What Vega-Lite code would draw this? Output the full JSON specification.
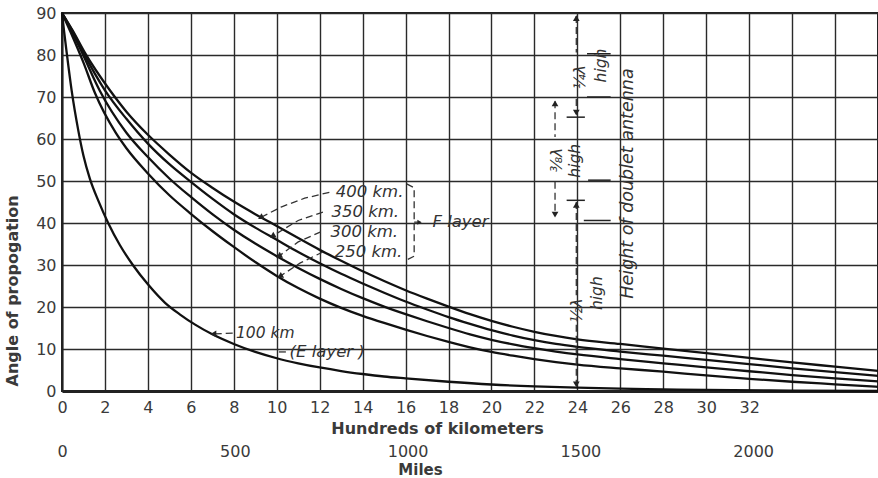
{
  "$schema": "https://vega.github.io/schema/vega-lite/v6.json",
  "width": 816,
  "height": 378,
  "autosize": {"type": "none"},
  "padding": {"left": 62, "top": 13, "right": 0, "bottom": 87},
  "background": "white",
  "config": {
    "view": {"stroke": "#222", "strokeWidth": 2},
    "axis": {
      "labelFont": "DejaVu Sans", "labelFontSize": 16, "labelColor": "#3a3a3a",
      "titleFont": "DejaVu Sans", "titleFontSize": 16, "titleFontWeight": "bold", "titleColor": "#3a3a3a",
      "gridColor": "#2a2a2a", "gridWidth": 1.4, "gridOpacity": 1,
      "domainColor": "#222", "ticks": false, "labelFlush": false, "labelOverlap": false
    },
    "text": {"font": "DejaVu Sans", "fontStyle": "italic", "fontSize": 15, "color": "#333"}
  },
  "datasets": {
    "curves": [
      {"km": "100", "x": 0, "angle": 90}, {"km": "100", "x": 0.1, "angle": 85.5}, {"km": "100", "x": 0.22, "angle": 80.5}, {"km": "100", "x": 0.45, "angle": 71.5}, {"km": "100", "x": 0.76, "angle": 62}, {"km": "100", "x": 1.0, "angle": 56}, {"km": "100", "x": 1.3, "angle": 50.5}, {"km": "100", "x": 1.7, "angle": 45.2}, {"km": "100", "x": 2.15, "angle": 40}, {"km": "100", "x": 2.7, "angle": 34.7}, {"km": "100", "x": 3.3, "angle": 30}, {"km": "100", "x": 4, "angle": 25.4}, {"km": "100", "x": 4.8, "angle": 21.0}, {"km": "100", "x": 5.5, "angle": 18.2}, {"km": "100", "x": 6.2, "angle": 15.8}, {"km": "100", "x": 7, "angle": 13.5}, {"km": "100", "x": 8, "angle": 11.2}, {"km": "100", "x": 9, "angle": 9.3}, {"km": "100", "x": 10, "angle": 7.8}, {"km": "100", "x": 11, "angle": 6.6}, {"km": "100", "x": 12, "angle": 5.6}, {"km": "100", "x": 13, "angle": 4.75}, {"km": "100", "x": 14, "angle": 4.05}, {"km": "100", "x": 15, "angle": 3.45}, {"km": "100", "x": 16, "angle": 3.0}, {"km": "100", "x": 18, "angle": 2.2}, {"km": "100", "x": 20, "angle": 1.55}, {"km": "100", "x": 22, "angle": 1.1}, {"km": "100", "x": 24, "angle": 0.8}, {"km": "100", "x": 26, "angle": 0.55}, {"km": "100", "x": 28, "angle": 0.4}, {"km": "100", "x": 30, "angle": 0.25}, {"km": "100", "x": 33, "angle": 0.12}, {"km": "100", "x": 38, "angle": 0},
      {"km": "250", "x": 0, "angle": 90}, {"km": "250", "x": 0.5, "angle": 84.3}, {"km": "250", "x": 1, "angle": 78.2}, {"km": "250", "x": 1.53, "angle": 71}, {"km": "250", "x": 2.5, "angle": 61.5}, {"km": "250", "x": 3, "angle": 57.8}, {"km": "250", "x": 4, "angle": 51.8}, {"km": "250", "x": 5, "angle": 46.6}, {"km": "250", "x": 6, "angle": 42.2}, {"km": "250", "x": 7, "angle": 38.1}, {"km": "250", "x": 8, "angle": 34.3}, {"km": "250", "x": 9, "angle": 30.7}, {"km": "250", "x": 10, "angle": 27.4}, {"km": "250", "x": 11, "angle": 24.5}, {"km": "250", "x": 12, "angle": 22}, {"km": "250", "x": 13, "angle": 19.8}, {"km": "250", "x": 14, "angle": 17.9}, {"km": "250", "x": 15, "angle": 16.2}, {"km": "250", "x": 16, "angle": 14.6}, {"km": "250", "x": 17, "angle": 13.1}, {"km": "250", "x": 18, "angle": 11.7}, {"km": "250", "x": 19, "angle": 10.4}, {"km": "250", "x": 20, "angle": 9.3}, {"km": "250", "x": 21, "angle": 8.4}, {"km": "250", "x": 22, "angle": 7.6}, {"km": "250", "x": 23, "angle": 6.9}, {"km": "250", "x": 24, "angle": 6.3}, {"km": "250", "x": 26, "angle": 5.4}, {"km": "250", "x": 28, "angle": 4.6}, {"km": "250", "x": 30, "angle": 3.7}, {"km": "250", "x": 32, "angle": 2.9}, {"km": "250", "x": 34, "angle": 2.2}, {"km": "250", "x": 36, "angle": 1.6}, {"km": "250", "x": 38, "angle": 1.0},
      {"km": "300", "x": 0, "angle": 90}, {"km": "300", "x": 0.5, "angle": 85.2}, {"km": "300", "x": 1, "angle": 79.8}, {"km": "300", "x": 1.76, "angle": 71.5}, {"km": "300", "x": 3, "angle": 61.5}, {"km": "300", "x": 4, "angle": 55.7}, {"km": "300", "x": 5, "angle": 50.6}, {"km": "300", "x": 6, "angle": 46.2}, {"km": "300", "x": 7, "angle": 42.1}, {"km": "300", "x": 8, "angle": 38.4}, {"km": "300", "x": 9, "angle": 35.1}, {"km": "300", "x": 10, "angle": 32.1}, {"km": "300", "x": 11, "angle": 29.3}, {"km": "300", "x": 12, "angle": 26.7}, {"km": "300", "x": 13, "angle": 24.3}, {"km": "300", "x": 14, "angle": 22.1}, {"km": "300", "x": 15, "angle": 20.1}, {"km": "300", "x": 16, "angle": 18.3}, {"km": "300", "x": 17, "angle": 16.6}, {"km": "300", "x": 18, "angle": 15}, {"km": "300", "x": 19, "angle": 13.5}, {"km": "300", "x": 20, "angle": 12.2}, {"km": "300", "x": 21, "angle": 11.1}, {"km": "300", "x": 22, "angle": 10.2}, {"km": "300", "x": 23, "angle": 9.4}, {"km": "300", "x": 24, "angle": 8.7}, {"km": "300", "x": 26, "angle": 7.6}, {"km": "300", "x": 28, "angle": 6.6}, {"km": "300", "x": 30, "angle": 5.6}, {"km": "300", "x": 32, "angle": 4.7}, {"km": "300", "x": 34, "angle": 3.8}, {"km": "300", "x": 36, "angle": 3.0}, {"km": "300", "x": 38, "angle": 2.3},
      {"km": "350", "x": 0, "angle": 90}, {"km": "350", "x": 0.5, "angle": 85.6}, {"km": "350", "x": 1, "angle": 80.5}, {"km": "350", "x": 2, "angle": 71.6}, {"km": "350", "x": 3, "angle": 64.8}, {"km": "350", "x": 4, "angle": 58.9}, {"km": "350", "x": 5, "angle": 54}, {"km": "350", "x": 6, "angle": 49.8}, {"km": "350", "x": 7, "angle": 45.8}, {"km": "350", "x": 8, "angle": 42.1}, {"km": "350", "x": 9, "angle": 38.9}, {"km": "350", "x": 10, "angle": 36}, {"km": "350", "x": 11, "angle": 33.1}, {"km": "350", "x": 12, "angle": 30.4}, {"km": "350", "x": 13, "angle": 27.9}, {"km": "350", "x": 14, "angle": 25.6}, {"km": "350", "x": 15, "angle": 23.4}, {"km": "350", "x": 16, "angle": 21.3}, {"km": "350", "x": 17, "angle": 19.4}, {"km": "350", "x": 18, "angle": 17.6}, {"km": "350", "x": 19, "angle": 16}, {"km": "350", "x": 20, "angle": 14.5}, {"km": "350", "x": 21, "angle": 13.2}, {"km": "350", "x": 22, "angle": 12.1}, {"km": "350", "x": 23, "angle": 11.2}, {"km": "350", "x": 24, "angle": 10.5}, {"km": "350", "x": 26, "angle": 9.4}, {"km": "350", "x": 28, "angle": 8.4}, {"km": "350", "x": 30, "angle": 7.4}, {"km": "350", "x": 32, "angle": 6.4}, {"km": "350", "x": 34, "angle": 5.4}, {"km": "350", "x": 36, "angle": 4.5}, {"km": "350", "x": 38, "angle": 3.6},
      {"km": "400", "x": 0, "angle": 90}, {"km": "400", "x": 0.5, "angle": 85.8}, {"km": "400", "x": 1.07, "angle": 80.5}, {"km": "400", "x": 2.23, "angle": 71.6}, {"km": "400", "x": 3, "angle": 66.5}, {"km": "400", "x": 4, "angle": 61}, {"km": "400", "x": 5, "angle": 56.3}, {"km": "400", "x": 6, "angle": 52}, {"km": "400", "x": 7, "angle": 48.4}, {"km": "400", "x": 8, "angle": 45.1}, {"km": "400", "x": 9, "angle": 42.1}, {"km": "400", "x": 10, "angle": 39.3}, {"km": "400", "x": 11, "angle": 36.4}, {"km": "400", "x": 12, "angle": 33.6}, {"km": "400", "x": 13, "angle": 31}, {"km": "400", "x": 14, "angle": 28.5}, {"km": "400", "x": 15, "angle": 26.2}, {"km": "400", "x": 16, "angle": 24}, {"km": "400", "x": 17, "angle": 22}, {"km": "400", "x": 18, "angle": 20.1}, {"km": "400", "x": 19, "angle": 18.3}, {"km": "400", "x": 20, "angle": 16.7}, {"km": "400", "x": 21, "angle": 15.3}, {"km": "400", "x": 22, "angle": 14.1}, {"km": "400", "x": 23, "angle": 13.1}, {"km": "400", "x": 24, "angle": 12.3}, {"km": "400", "x": 26, "angle": 11.2}, {"km": "400", "x": 28, "angle": 10.1}, {"km": "400", "x": 30, "angle": 9.0}, {"km": "400", "x": 32, "angle": 7.9}, {"km": "400", "x": 34, "angle": 6.8}, {"km": "400", "x": 36, "angle": 5.8}, {"km": "400", "x": 38, "angle": 4.8}
    ],
    "dashes": [
      {"g": "l400", "o": 1, "x": 12.45, "angle": 47.3}, {"g": "l400", "o": 2, "x": 11.3, "angle": 45.9}, {"g": "l400", "o": 3, "x": 10.2, "angle": 43.8}, {"g": "l400", "o": 4, "x": 9.25, "angle": 41.3},
      {"g": "l350", "o": 1, "x": 12.15, "angle": 42.6}, {"g": "l350", "o": 2, "x": 11.0, "angle": 40.6}, {"g": "l350", "o": 3, "x": 9.8, "angle": 36.9},
      {"g": "l300", "o": 1, "x": 12.05, "angle": 37.9}, {"g": "l300", "o": 2, "x": 11.0, "angle": 35.5}, {"g": "l300", "o": 3, "x": 10.1, "angle": 32.1},
      {"g": "l250", "o": 1, "x": 12.15, "angle": 33.1}, {"g": "l250", "o": 2, "x": 11.1, "angle": 30.5}, {"g": "l250", "o": 3, "x": 10.15, "angle": 27.3},
      {"g": "brk", "o": 1, "x": 16.05, "angle": 49.3}, {"g": "brk", "o": 2, "x": 16.4, "angle": 48.4}, {"g": "brk", "o": 3, "x": 16.4, "angle": 32.1}, {"g": "brk", "o": 4, "x": 16.05, "angle": 31.2},
      {"g": "brk2", "o": 1, "x": 16.4, "angle": 40.2}, {"g": "brk2", "o": 2, "x": 16.6, "angle": 40.2},
      {"g": "l100", "o": 1, "x": 7.95, "angle": 13.8}, {"g": "l100", "o": 2, "x": 7.1, "angle": 13.6},
      {"g": "le", "o": 1, "x": 10.1, "angle": 9.3}, {"g": "le", "o": 2, "x": 10.45, "angle": 9.3},
      {"g": "q1a", "o": 1, "x": 23.95, "angle": 89.3}, {"g": "q1a", "o": 2, "x": 23.95, "angle": 80.6},
      {"g": "q1b", "o": 1, "x": 23.95, "angle": 69.5}, {"g": "q1b", "o": 2, "x": 23.95, "angle": 66},
      {"g": "q3a", "o": 1, "x": 22.96, "angle": 69}, {"g": "q3a", "o": 2, "x": 22.96, "angle": 60.5},
      {"g": "q3b", "o": 1, "x": 22.96, "angle": 49.8}, {"g": "q3b", "o": 2, "x": 22.96, "angle": 42},
      {"g": "h1a", "o": 1, "x": 23.95, "angle": 45}, {"g": "h1a", "o": 2, "x": 23.95, "angle": 22.8},
      {"g": "h1b", "o": 1, "x": 23.95, "angle": 15.8}, {"g": "h1b", "o": 2, "x": 23.95, "angle": 1.5}
    ],
    "ticks": [
      {"x": 23.5, "x2": 24.35, "angle": 65.2}, {"x": 23.5, "x2": 24.35, "angle": 45.4},
      {"x": 24.45, "x2": 25.55, "angle": 80.3}, {"x": 24.45, "x2": 25.55, "angle": 70},
      {"x": 24.5, "x2": 25.55, "angle": 50.2}, {"x": 24.3, "x2": 25.55, "angle": 40.6}
    ],
    "arrows": [
      {"dir": "leader", "x": 9.25, "angle": 41.3}, {"dir": "leader", "x": 9.8, "angle": 36.9}, {"dir": "leader", "x": 10.1, "angle": 32.1}, {"dir": "leader", "x": 10.15, "angle": 27.3},
      {"dir": "left", "x": 7.05, "angle": 13.6},
      {"dir": "right", "x": 16.65, "angle": 40.2},
      {"dir": "up", "x": 23.95, "angle": 88.8}, {"dir": "up", "x": 22.96, "angle": 68.5}, {"dir": "up", "x": 23.95, "angle": 44.3},
      {"dir": "down", "x": 23.95, "angle": 66.3}, {"dir": "down", "x": 22.96, "angle": 42}, {"dir": "down", "x": 23.95, "angle": 1.6}
    ],
    "labels": [
      {"t": "400 km.", "x": 12.75, "angle": 47.5}, {"t": "350 km.", "x": 12.55, "angle": 42.6},
      {"t": "300 km.", "x": 12.5, "angle": 37.9}, {"t": "250 km.", "x": 12.7, "angle": 33.1},
      {"t": "F layer", "x": 17.25, "angle": 40.2},
      {"t": "(E layer )", "x": 10.6, "angle": 9.3}
    ],
    "smalllabels": [
      {"t": "100 km", "x": 8.1, "angle": 13.8}
    ],
    "vlabels": [
      {"t": "¼λ", "x": 24.1, "angle": 74.7}, {"t": "high", "x": 25.1, "angle": 77.5},
      {"t": "⅜λ", "x": 23.05, "angle": 55}, {"t": "high", "x": 23.9, "angle": 54.8},
      {"t": "½λ", "x": 24.0, "angle": 19.2}, {"t": "high", "x": 24.9, "angle": 23.3}
    ],
    "biglabel": [
      {"t": "Height of doublet antenna", "x": 26.36, "angle": 49.4}
    ],
    "miles": [{"mi": 0}, {"mi": 2000}]
  },
  "layer": [
    {
      "layer": [
        {
          "data": {"name": "curves"},
          "mark": {"type": "line", "color": "#111", "strokeWidth": 2.3, "interpolate": "monotone"},
          "encoding": {
            "x": {"field": "x", "type": "quantitative",
              "scale": {"domain": [0, 38], "nice": false, "zero": false},
              "axis": {"values": [0, 2, 4, 6, 8, 10, 12, 14, 16, 18, 20, 22, 24, 26, 28, 30, 32, 34, 36, 38],
                "labelExpr": "datum.value <= 32 ? datum.label : ''",
                "labelPadding": 8, "domainWidth": 3,
                "title": "Hundreds of kilometers", "titleX": 375, "titleY": 29, "titleAlign": "center", "titleBaseline": "top"}},
            "y": {"field": "angle", "type": "quantitative",
              "scale": {"domain": [0, 90], "nice": false, "zero": false},
              "axis": {"values": [0, 10, 20, 30, 40, 50, 60, 70, 80, 90], "labelPadding": 6, "domainWidth": 2,
                "title": "Angle of propogation", "titleAngle": -90, "titleX": -50, "titleY": 373, "titleAlign": "left", "titleBaseline": "middle"}},
            "detail": {"field": "km"}
          }
        },
        {
          "data": {"name": "dashes"},
          "mark": {"type": "line", "color": "#333", "strokeWidth": 1.3, "strokeDash": [7, 4]},
          "encoding": {
            "x": {"field": "x", "type": "quantitative"},
            "y": {"field": "angle", "type": "quantitative"},
            "detail": {"field": "g"},
            "order": {"field": "o"}
          }
        },
        {
          "data": {"name": "ticks"},
          "mark": {"type": "rule", "color": "#222", "strokeWidth": 1.5},
          "encoding": {
            "x": {"field": "x", "type": "quantitative"},
            "x2": {"field": "x2"},
            "y": {"field": "angle", "type": "quantitative"}
          }
        },
        {
          "data": {"name": "arrows"},
          "transform": [{"filter": "datum.dir == 'leader'"}],
          "mark": {"type": "point", "shape": "triangle-up", "angle": 240, "filled": true, "color": "#222", "size": 45, "opacity": 1},
          "encoding": {
            "x": {"field": "x", "type": "quantitative"},
            "y": {"field": "angle", "type": "quantitative"}
          }
        },
        {
          "data": {"name": "arrows"},
          "transform": [{"filter": "datum.dir == 'left'"}],
          "mark": {"type": "point", "shape": "triangle-left", "filled": true, "color": "#222", "size": 45, "opacity": 1},
          "encoding": {
            "x": {"field": "x", "type": "quantitative"},
            "y": {"field": "angle", "type": "quantitative"}
          }
        },
        {
          "data": {"name": "arrows"},
          "transform": [{"filter": "datum.dir == 'right'"}],
          "mark": {"type": "point", "shape": "triangle-right", "filled": true, "color": "#222", "size": 25, "opacity": 1},
          "encoding": {
            "x": {"field": "x", "type": "quantitative"},
            "y": {"field": "angle", "type": "quantitative"}
          }
        },
        {
          "data": {"name": "arrows"},
          "transform": [{"filter": "datum.dir == 'up'"}],
          "mark": {"type": "point", "shape": "triangle-up", "filled": true, "color": "#222", "size": 45, "opacity": 1},
          "encoding": {
            "x": {"field": "x", "type": "quantitative"},
            "y": {"field": "angle", "type": "quantitative"}
          }
        },
        {
          "data": {"name": "arrows"},
          "transform": [{"filter": "datum.dir == 'down'"}],
          "mark": {"type": "point", "shape": "triangle-down", "filled": true, "color": "#222", "size": 45, "opacity": 1},
          "encoding": {
            "x": {"field": "x", "type": "quantitative"},
            "y": {"field": "angle", "type": "quantitative"}
          }
        },
        {
          "data": {"name": "labels"},
          "mark": {"type": "text", "align": "left", "baseline": "middle", "fontSize": 16.5},
          "encoding": {
            "x": {"field": "x", "type": "quantitative"},
            "y": {"field": "angle", "type": "quantitative"},
            "text": {"field": "t"}
          }
        },
        {
          "data": {"name": "smalllabels"},
          "mark": {"type": "text", "align": "left", "baseline": "middle", "fontSize": 15.5},
          "encoding": {
            "x": {"field": "x", "type": "quantitative"},
            "y": {"field": "angle", "type": "quantitative"},
            "text": {"field": "t"}
          }
        },
        {
          "data": {"name": "vlabels"},
          "mark": {"type": "text", "align": "center", "baseline": "middle", "angle": 270, "fontSize": 15.5},
          "encoding": {
            "x": {"field": "x", "type": "quantitative"},
            "y": {"field": "angle", "type": "quantitative"},
            "text": {"field": "t"}
          }
        },
        {
          "data": {"name": "biglabel"},
          "mark": {"type": "text", "align": "center", "baseline": "middle", "angle": 270, "fontSize": 17.5},
          "encoding": {
            "x": {"field": "x", "type": "quantitative"},
            "y": {"field": "angle", "type": "quantitative"},
            "text": {"field": "t"}
          }
        }
      ]
    },
    {
      "data": {"name": "miles"},
      "mark": {"type": "point", "opacity": 0},
      "encoding": {
        "x": {"field": "mi", "type": "quantitative",
          "scale": {"domain": [0, 2361.2], "nice": false, "zero": false},
          "axis": {"orient": "bottom", "offset": 50, "values": [0, 500, 1000, 1500, 2000], "format": "d",
            "domain": false, "grid": false, "ticks": false, "labelPadding": 2,
            "title": "Miles", "titleFontSize": 15, "titleX": 358, "titleY": 21, "titleAlign": "center", "titleBaseline": "top"}}
      }
    }
  ],
  "resolve": {"scale": {"x": "independent"}, "axis": {"x": "independent"}}
}
